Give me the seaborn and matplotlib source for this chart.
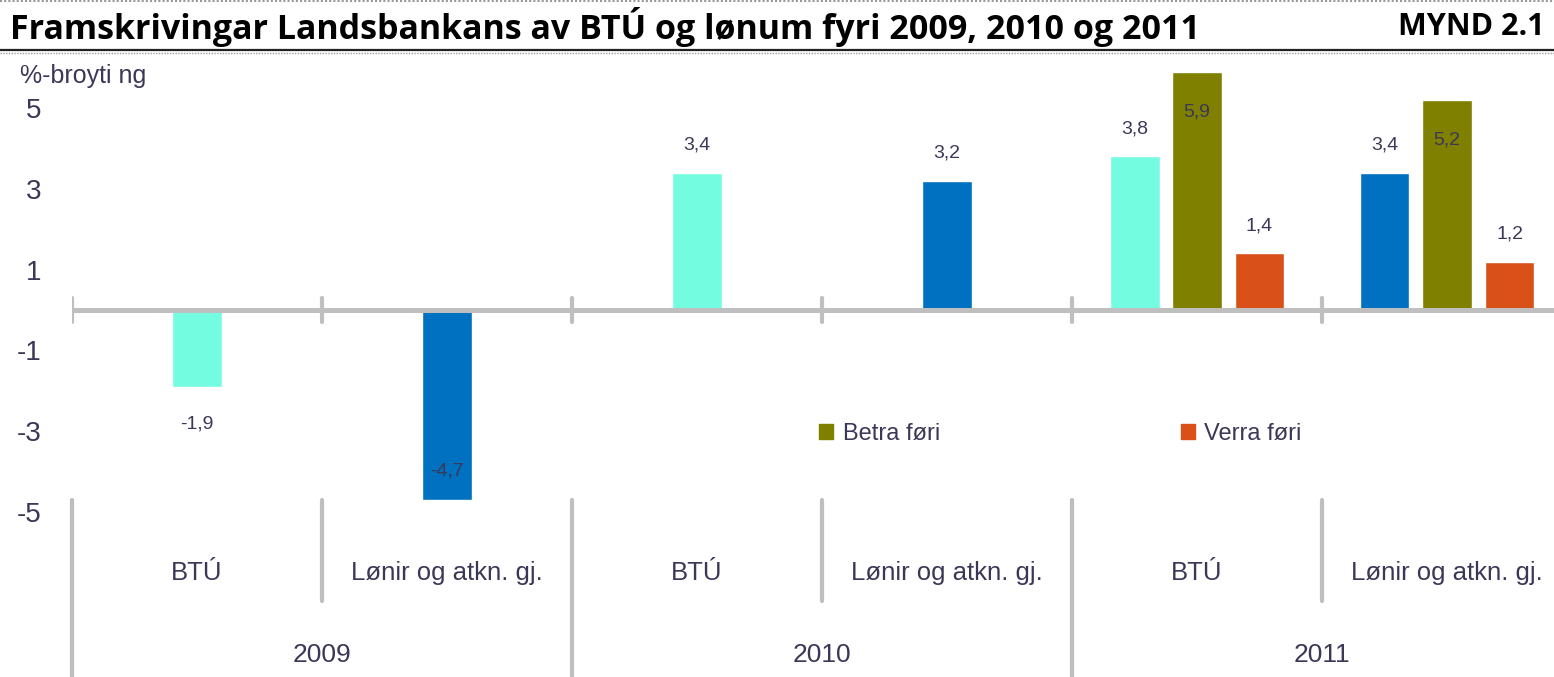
import matplotlib
matplotlib.use("Agg")
import matplotlib.pyplot as plt
import matplotlib.patches as mpatches
from matplotlib.lines import Line2D
import numpy as np
import pandas as pd
import seaborn as sns

# data
years = ["2009", "2009", "2010", "2010", "2011", "2011"]
measures = ["BTÚ", "Lønir og atkn. gj.", "BTÚ", "Lønir og atkn. gj.", "BTÚ", "Lønir og atkn. gj."]
grunnur = [-1.9, -4.7, 3.4, 3.2, 3.8, 3.4]
betra = [None, None, None, None, 5.9, 5.2]
verra = [None, None, None, None, 1.4, 1.2]
scenarios = ["Grunnur", "Betra føri", "Verra føri"]
yticks = [5, 3, 1, -1, -3, -5]

keys = [m + " " + y for m, y in zip(measures, years)]
rows = []
for k, m, y, g, b, v in zip(keys, measures, years, grunnur, betra, verra):
    for s, val in zip(scenarios, [g, b, v]):
        if val is not None:
            rows.append({"key": k, "measure": m, "year": y, "scenario": s, "value": val})
df = pd.DataFrame(rows)

navy = "#3b3857"
grey = "#bfbfbf"
measure_colors = {"BTÚ": "#73fce0", "Lønir og atkn. gj.": "#0070c0"}
olive = "#808000"
orange = "#d95118"

sns.set_style("white")
plt.rcParams["font.family"] = ["Liberation Sans Narrow", "Liberation Sans", "DejaVu Sans"]
plt.rcParams["axes.unicode_minus"] = False

W, H = 1554, 677
fig = plt.figure(figsize=(W / 100, H / 100), dpi=100)
ax = fig.add_axes([72 / W, 1 - 512 / H, 1500 / W, (512 - 67.6) / H])

# 2009 and 2010: one bar per category, centred
single = df[df["year"] != "2011"]
sns.barplot(data=single, x="key", y="value", hue="measure", palette=measure_colors,
            order=keys, dodge=False, width=0.2, saturation=1, errorbar=None,
            legend=False, ax=ax)

# 2011: base, better and worse scenario side by side
for m in ["BTÚ", "Lønir og atkn. gj."]:
    sub = df[(df["year"] == "2011") & (df["measure"] == m)]
    pal = {"Grunnur": measure_colors[m], "Betra føri": olive, "Verra føri": orange}
    sns.barplot(data=sub, x="key", y="value", hue="scenario", hue_order=scenarios,
                palette=pal, order=keys, dodge=True, width=0.75, gap=0.2,
                saturation=1, errorbar=None, legend=False, ax=ax)

# value labels
for p in ax.patches:
    h = p.get_height()
    if np.isnan(h):
        continue
    x = p.get_x() + p.get_width() / 2
    if h > 5:
        off = -29
    elif h > 0:
        off = 20
    elif h < -4:
        off = 21
    else:
        off = -27
    ax.annotate(f"{h:.1f}".replace(".", ","), (x, h), xytext=(0, off),
                textcoords="offset points", ha="center", va="center",
                fontsize=14, color=navy)

ax.set_xlim(-0.5, len(keys) - 0.5)
ax.set_ylim(-5, 6)
ax.set_xticks([])
ax.set_yticks(yticks)
ax.set_xlabel("")
ax.set_ylabel("")
ax.tick_params(axis="y", length=0, labelsize=20, labelcolor=navy, pad=22)
for s in ax.spines.values():
    s.set_visible(False)

# zero line with category ticks
ax.axhline(0, color=grey, lw=3.6, zorder=1)
bounds = np.arange(len(keys)) - 0.5
ax.vlines(bounds, -0.3, 0.3, color=grey, lw=3, capstyle="round", zorder=1)

# multi-level category axis below the plot
for i, b in enumerate(bounds):
    low = -9.4 if i % 2 == 0 else -7.2
    ax.vlines(b, low, -4.7, color=grey, lw=3, capstyle="round", clip_on=False)
for i, m in enumerate(measures):
    ax.text(i, -6.5, m, ha="center", va="center", fontsize=18.5, color=navy, clip_on=False)
for i in range(0, len(years), 2):
    ax.text(i + 0.5, -8.55, years[i], ha="center", va="center", fontsize=19,
            color=navy, clip_on=False)

# legend for the 2011 scenarios
handles = [mpatches.Patch(color=olive, label="Betra føri"),
           mpatches.Patch(color=orange, label="Verra føri")]
fig.legend(handles=handles, ncol=2, frameon=False, loc="center left",
           bbox_to_anchor=(819 / W, 1 - 434 / H), fontsize=17, labelcolor=navy,
           handlelength=0.6, handleheight=0.6, handletextpad=0.4, columnspacing=10.2,
           borderaxespad=0, borderpad=0)

# header
fig.text(10 / W, 1 - 27 / H, "Framskrivingar Landsbankans av BTÚ og lønum fyri 2009, 2010 og 2011",
         ha="left", va="center", fontsize=24.5, fontweight="bold", color="black",
         family=["Open Sans", "DejaVu Sans"])
fig.text(1545 / W, 1 - 27 / H, "MYND 2.1", ha="right", va="center", fontsize=22,
         fontweight="bold", color="black", family=["Open Sans", "DejaVu Sans"])
fig.text(20 / W, 1 - 76 / H, "%-broyti ng", ha="left", va="center", fontsize=18, color=navy)
fig.add_artist(Line2D([0, 1], [1 - 1 / H, 1 - 1 / H], color="#9a9a9a", lw=1.5, ls=(0, (1, 1))))
fig.add_artist(Line2D([0, 1], [1 - 50 / H, 1 - 50 / H], color="#222222", lw=1.6))
fig.add_artist(Line2D([0, 1], [1 - 52.5 / H, 1 - 52.5 / H], color="#9a9a9a", lw=1, ls=(0, (1, 1))))

fig.savefig("out.png", dpi=100)
